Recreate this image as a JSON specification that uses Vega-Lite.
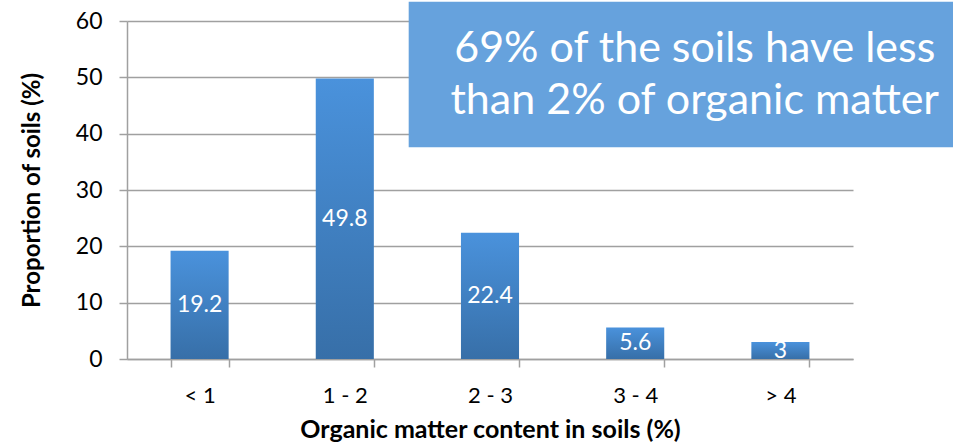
{
  "$schema": "https://vega.github.io/schema/vega-lite/v6.json",
  "width": 726,
  "height": 338,
  "autosize": {"type": "none"},
  "padding": {"left": 127, "top": 21, "right": 100, "bottom": 84},
  "background": "white",
  "config": {
    "view": {"stroke": null},
    "font": "Lato",
    "axis": {"labelFont": "Lato", "titleFont": "Lato"}
  },
  "resolve": {"scale": {"x": "independent", "y": "independent"}},
  "layer": [
    {
      "data": {"values": [
        {"category": "< 1", "value": 19.2},
        {"category": "1 - 2", "value": 49.8},
        {"category": "2 - 3", "value": 22.4},
        {"category": "3 - 4", "value": 5.6},
        {"category": "> 4", "value": 3}
      ]},
      "mark": {
        "type": "bar",
        "color": {
          "gradient": "linear", "x1": 0, "y1": 0, "x2": 0, "y2": 1,
          "stops": [{"offset": 0, "color": "#4A92DC"}, {"offset": 1, "color": "#376FA8"}]
        }
      },
      "encoding": {
        "x": {
          "field": "category", "type": "nominal", "sort": null,
          "scale": {"paddingInner": 0.6, "paddingOuter": 0.3},
          "axis": {
            "title": "Organic matter content in soils (%)",
            "titleFontSize": 25, "titleFontWeight": "bold", "titleColor": "#000",
            "titlePadding": 11,
            "labelAngle": 0, "labelFontSize": 22, "labelColor": "#000",
            "labelPadding": 18,
            "tickBand": "extent", "tickSize": 8, "tickColor": "#A0A0A0", "tickWidth": 1.5,
            "domainColor": "#A0A0A0", "domainWidth": 1.5, "grid": false
          }
        },
        "y": {
          "field": "value", "type": "quantitative",
          "scale": {"domain": [0, 60], "nice": false},
          "axis": {
            "title": "Proportion of soils (%)",
            "titleFontSize": 24, "titleFontWeight": "bold", "titleColor": "#000",
            "titlePadding": 31,
            "values": [0, 10, 20, 30, 40, 50, 60],
            "labelFontSize": 23, "labelColor": "#000", "labelPadding": 17,
            "tickSize": 8, "tickColor": "#A0A0A0", "tickWidth": 1.5,
            "domainColor": "#A0A0A0", "domainWidth": 1.5,
            "grid": true, "gridColor": "#A0A0A0", "gridWidth": 1.5
          }
        }
      }
    },
    {
      "data": {"values": [
        {"category": "< 1", "value": 19.2},
        {"category": "1 - 2", "value": 49.8},
        {"category": "2 - 3", "value": 22.4},
        {"category": "3 - 4", "value": 5.6},
        {"category": "> 4", "value": 3}
      ]},
      "mark": {"type": "text", "color": "white", "fontSize": 23, "baseline": "middle", "align": "center"},
      "encoding": {
        "x": {"field": "category", "type": "nominal", "sort": null,
              "scale": {"paddingInner": 0.6, "paddingOuter": 0.3}, "axis": null},
        "y": {"field": "value", "type": "quantitative",
              "scale": {"domain": [0, 120], "nice": false}, "axis": null},
        "text": {"field": "value", "type": "quantitative"}
      }
    },
    {
      "data": {"values": [{"x1": 1.94, "x2": 5.8, "y1": 37.6, "y2": 63.4}]},
      "mark": {"type": "rect", "color": "#66A2DD"},
      "encoding": {
        "x": {"field": "x1", "type": "quantitative", "scale": {"domain": [0, 5], "nice": false, "zero": false}, "axis": null},
        "x2": {"field": "x2"},
        "y": {"field": "y1", "type": "quantitative", "scale": {"domain": [0, 60], "nice": false}, "axis": null},
        "y2": {"field": "y2"}
      }
    },
    {
      "data": {"values": [
        {"line": "69% of the soils have less", "x": 3.91, "y": 55.0},
        {"line": "than 2% of organic matter", "x": 3.91, "y": 45.8}
      ]},
      "mark": {"type": "text", "color": "white", "fontSize": 43, "fontWeight": "normal", "align": "center", "baseline": "middle"},
      "encoding": {
        "x": {"field": "x", "type": "quantitative", "scale": {"domain": [0, 5], "nice": false, "zero": false}, "axis": null},
        "y": {"field": "y", "type": "quantitative", "scale": {"domain": [0, 60], "nice": false}, "axis": null},
        "text": {"field": "line", "type": "nominal"}
      }
    }
  ]
}
